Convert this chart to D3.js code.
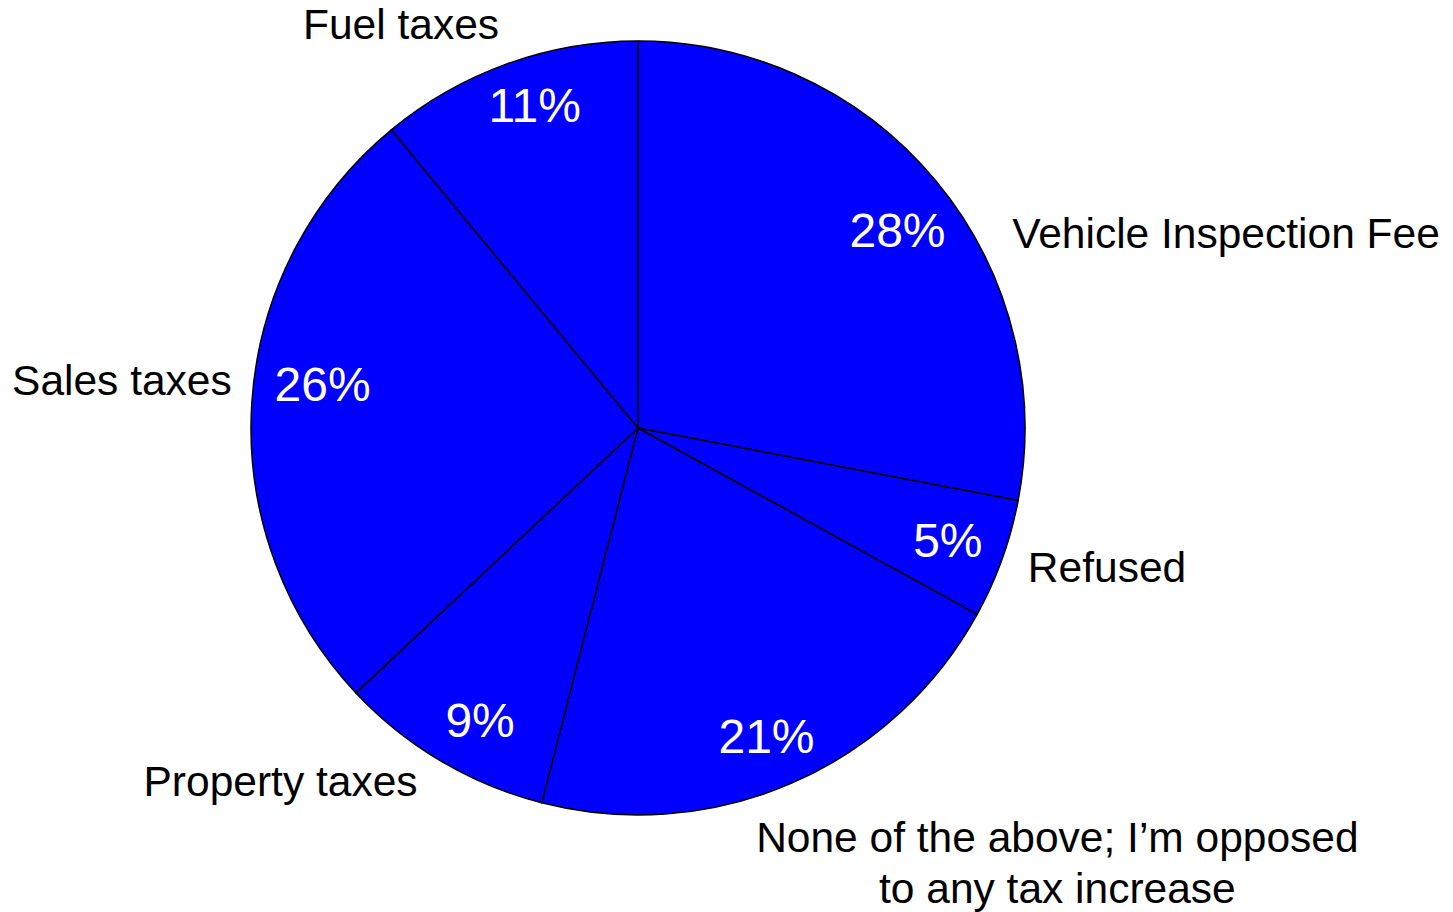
<!DOCTYPE html>
<html>
<head>
<meta charset="utf-8">
<script src="https://cdn.jsdelivr.net/npm/d3@7"></script>
<style>
  html, body { margin: 0; padding: 0; background: #fff; }
  svg { display: block; }
</style>
</head>
<body>
<script>
// ---- data ----
const categories = ["Vehicle Inspection Fee", "Refused", "None of the above; I\u2019m opposed|to any tax increase", "Property taxes", "Sales taxes", "Fuel taxes"];
const values = [28, 5, 21, 9, 26, 11];

// ---- layout (degrees clockwise from top; radius as fraction of pie radius) ----
const labelAngle = [62.5, 109.7, 136, 212, 276.7, 329.6];
const labelRadius = [1.09, 1.07, 1.56, 1.075, 1.057, 1.21];
const labelAnchor = ["start", "start", "middle", "end", "end", "middle"];
const pctAngle = [52.6, 109.8, 157.35, 208.4, 278.0, 342.3];
const pctRadius = [0.844, 0.851, 0.862, 0.858, 0.823, 0.878];

const W = 1453, H = 912;
const cx = 638, cy = 428, R = 387;

const svg = d3.select("body").append("svg").attr("width", W).attr("height", H);
const g = svg.append("g").attr("transform", `translate(${cx},${cy})`);

const data = categories.map((c, i) => ({ name: c, value: values[i], i }));
const pie = d3.pie().value(d => d.value).sort(null);
const arcs = pie(data);
const arc = d3.arc().innerRadius(0).outerRadius(R);

g.selectAll("path.slice").data(arcs).join("path")
  .attr("class", "slice")
  .attr("d", arc)
  .attr("fill", "#0000ff")
  .attr("stroke", "#000")
  .attr("stroke-width", 1.5)
  .attr("stroke-linejoin", "round");

function polar(angleDeg, r) {
  const a = angleDeg * Math.PI / 180;
  return [r * Math.sin(a), -r * Math.cos(a)];
}

// percentage labels
g.selectAll("text.pct").data(arcs).join("text")
  .attr("class", "pct")
  .attr("transform", d => `translate(${polar(pctAngle[d.data.i], pctRadius[d.data.i] * R)})`)
  .attr("text-anchor", "middle")
  .attr("dy", "0.36em")
  .attr("fill", "#fff")
  .style("font-family", "'Liberation Sans', Arial, sans-serif")
  .style("font-size", "48px")
  .text(d => d.data.value + "%");

// category labels
const lab = g.selectAll("text.cat").data(arcs).join("text")
  .attr("class", "cat")
  .attr("text-anchor", d => labelAnchor[d.data.i])
  .attr("fill", "#000")
  .style("font-family", "'Liberation Sans', Arial, sans-serif")
  .style("font-size", "42.5px")
  .attr("transform", d => `translate(${polar(labelAngle[d.data.i], labelRadius[d.data.i] * R)})`);

lab.each(function(d) {
  const lines = d.data.name.split("|");
  const t = d3.select(this);
  const lh = 1.2;
  const start = -(lines.length - 1) * lh / 2;
  lines.forEach((ln, k) => {
    t.append("tspan")
      .attr("x", 0)
      .attr("dy", k === 0 ? (start + 0.35) + "em" : lh + "em")
      .text(ln);
  });
});
</script>
</body>
</html>
